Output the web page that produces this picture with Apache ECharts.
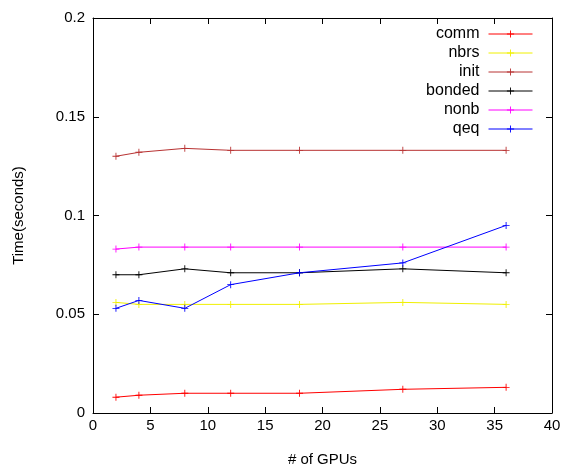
<!DOCTYPE html>
<html lang="en">
<head>
    <meta charset="UTF-8">
    <title>Time vs # of GPUs</title>
    <script src="https://cdn.jsdelivr.net/npm/echarts@6/dist/echarts.min.js"></script>
    <style>
        html, body { margin: 0; padding: 0; background: #fff; }
        #main { width: 566px; height: 470px; }
    </style>
</head>
<body>
    <div id="main"></div>
</body>
</html>
<script type="text/javascript">
    // 数据
    var gpus = [2, 4, 8, 12, 18, 27, 36];
    var comm = [0.008, 0.009, 0.010, 0.010, 0.010, 0.012, 0.013];
    var nbrs = [0.056, 0.055, 0.055, 0.055, 0.055, 0.056, 0.055];
    var init = [0.130, 0.132, 0.134, 0.133, 0.133, 0.133, 0.133];
    var bonded = [0.070, 0.070, 0.073, 0.071, 0.071, 0.073, 0.071];
    var nonb = [0.083, 0.084, 0.084, 0.084, 0.084, 0.084, 0.084];
    var qeq = [0.053, 0.057, 0.053, 0.065, 0.071, 0.076, 0.095];

    var names = ['comm', 'nbrs', 'init', 'bonded', 'nonb', 'qeq'];
    var values = [comm, nbrs, init, bonded, nonb, qeq];
    var colors = ['#ff0000', '#f0f000', '#b83232', '#000000', '#ff00ff', '#0000ff'];

    // "+" 形状
    var plus = 'path://M0,3.5 L3.5,3.5 L3.5,0 L4.5,0 L4.5,3.5 L8,3.5 L8,4.5 L4.5,4.5 L4.5,8 L3.5,8 L3.5,4.5 L0,4.5 Z';
    var font = 'Liberation Sans';

    var series = [];
    for (var i = 0; i < names.length; i++) {
        var pts = [];
        for (var j = 0; j < gpus.length; j++) {
            pts.push([gpus[j], values[i][j]]);
        }
        series.push({
            name: names[i],
            type: 'line',
            data: pts,
            symbol: plus,
            symbolSize: 7,
            showAllSymbol: true,
            color: colors[i],
            lineStyle: { width: 1, color: colors[i] },
            itemStyle: { color: colors[i] },
            emphasis: { disabled: true },
            animation: false
        });
    }

    var axisText = { color: '#000', fontFamily: font, fontSize: 15 };
    var lineStyle = { color: '#000', width: 1 };

    var myChart = echarts.init(document.getElementById('main'));
    var option = {
        backgroundColor: '#fff',
        animation: false,
        grid: { left: 93, right: 14, top: 18, bottom: 57, outerBoundsMode: 'none', containLabel: false },
        legend: {
            orient: 'vertical',
            right: 33,
            top: 26,
            align: 'right',
            itemWidth: 44,
            itemHeight: 9,
            itemGap: 3,
            padding: 0,
            data: names,
            lineStyle: { width: 1 },
            formatter: '{a|{name}}',
            textStyle: {
                color: '#000',
                fontFamily: font,
                fontSize: 16,
                rich: { a: { width: 70, align: 'right', lineHeight: 19, padding: [0, 4, 0, 0], fontFamily: font, fontSize: 16, color: '#000' } }
            }
        },
        xAxis: [{
            type: 'value',
            min: 0, max: 40, interval: 5,
            name: '# of GPUs',
            nameLocation: 'middle',
            nameGap: 39,
            nameTextStyle: axisText,
            axisLine: { show: true, onZero: false, lineStyle: lineStyle },
            axisTick: { inside: true, length: 6, lineStyle: lineStyle },
            axisLabel: { color: '#000', fontFamily: font, fontSize: 15, margin: 5 },
            splitLine: { show: false }
        }, {
            type: 'value',
            position: 'top',
            min: 0, max: 40, interval: 5,
            axisLine: { show: true, onZero: false, lineStyle: lineStyle },
            axisTick: { inside: true, length: 6, lineStyle: lineStyle },
            axisLabel: { show: false },
            splitLine: { show: false }
        }],
        yAxis: [{
            type: 'value',
            min: 0, max: 0.2, interval: 0.05,
            name: 'Time(seconds)',
            nameLocation: 'middle',
            nameGap: 67,
            nameTextStyle: axisText,
            axisLine: { show: true, onZero: false, lineStyle: lineStyle },
            axisTick: { inside: true, length: 6, lineStyle: lineStyle },
            axisLabel: { color: '#000', fontFamily: font, fontSize: 15, margin: 8 },
            splitLine: { show: false }
        }, {
            type: 'value',
            position: 'right',
            min: 0, max: 0.2, interval: 0.05,
            axisLine: { show: true, onZero: false, lineStyle: lineStyle },
            axisTick: { inside: true, length: 6, lineStyle: lineStyle },
            axisLabel: { show: false },
            splitLine: { show: false }
        }],
        series: series
    };
    myChart.setOption(option);
</script>
